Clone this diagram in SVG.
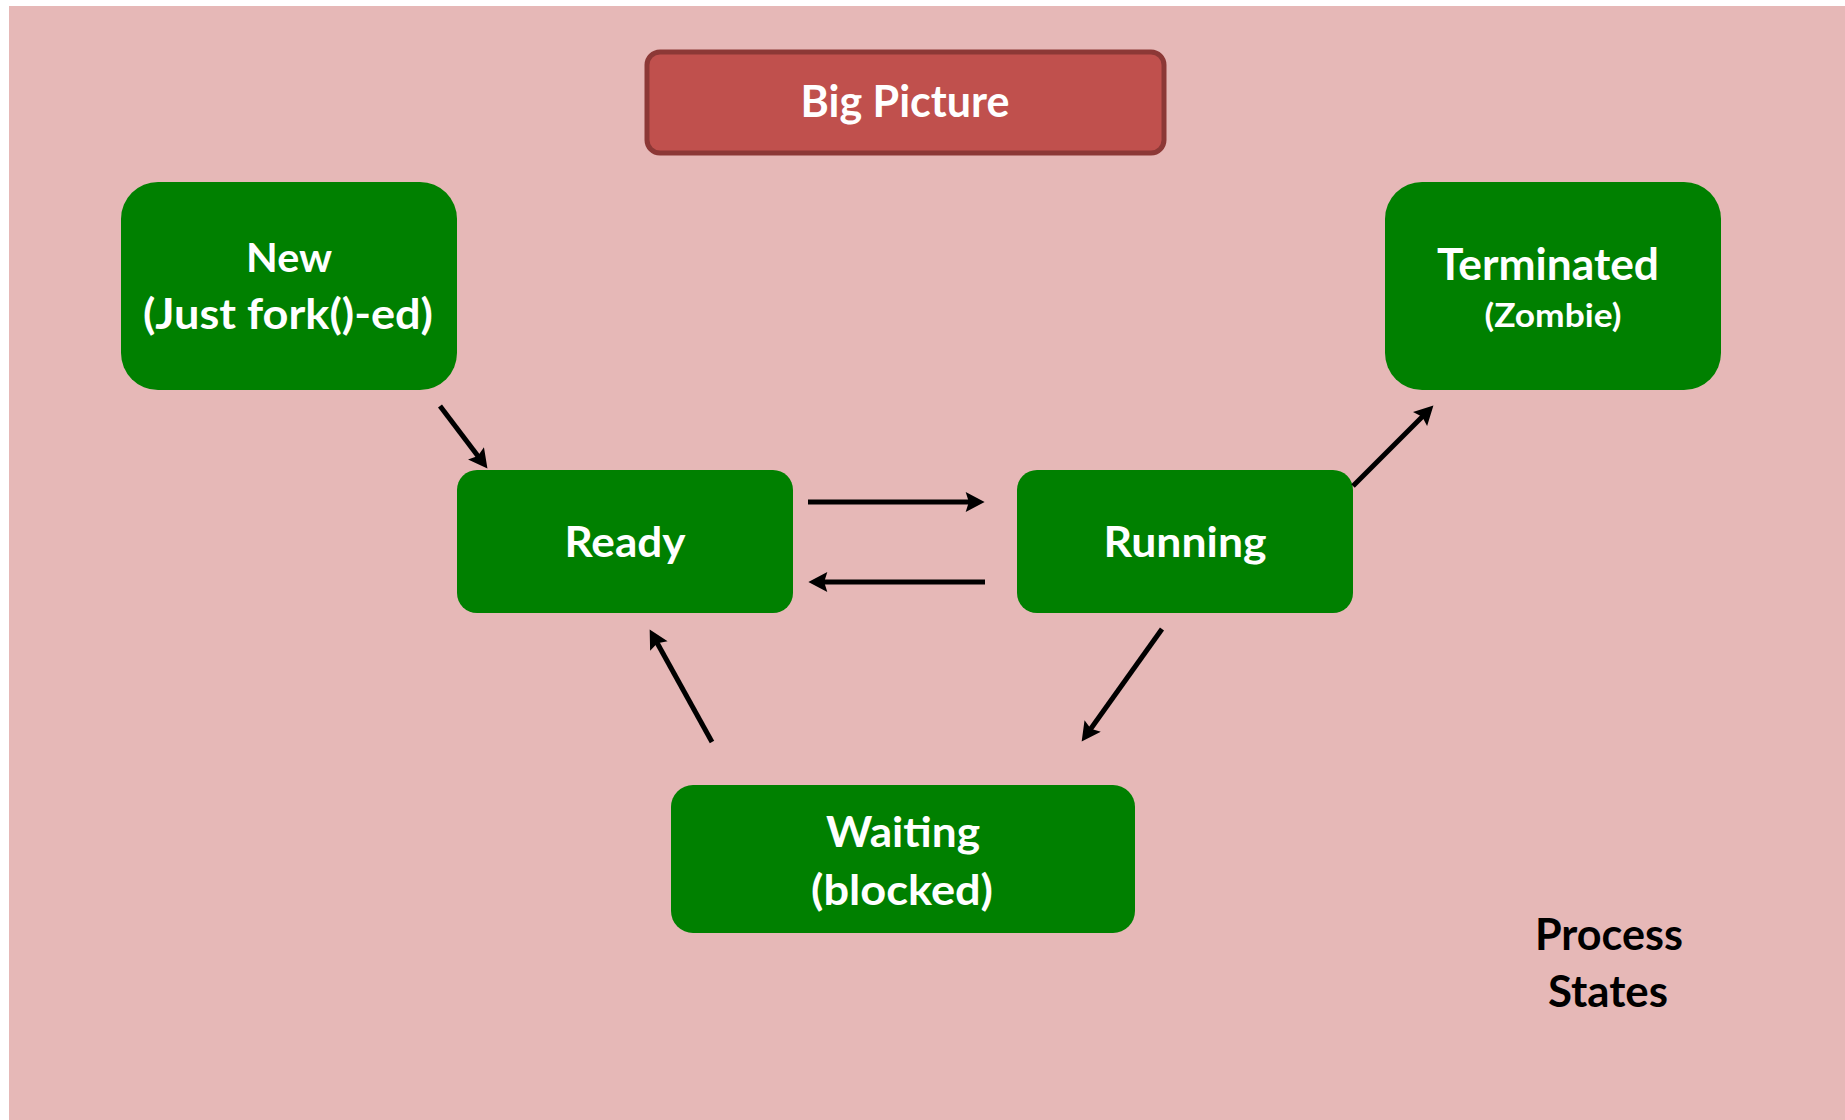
<svg xmlns="http://www.w3.org/2000/svg" width="1845" height="1120" viewBox="0 0 1845 1120">
<defs>
<style>
.bg{fill:#E6B8B7}
.state{fill:#008000}
.title{fill:#C0504D;stroke:#8C3836;stroke-width:5}
.t{font-family:Lato,"Open Sans","Liberation Sans",sans-serif;font-weight:bold;fill:#FFFFFF;text-anchor:middle}
.k{font-family:Lato,"Open Sans","Liberation Sans",sans-serif;font-weight:bold;fill:#000000;text-anchor:middle}
.edge{stroke:#000;stroke-width:5;fill:none;marker-end:url(#ah)}
</style>
<marker id="ah" markerUnits="userSpaceOnUse" markerWidth="20" markerHeight="20" viewBox="0 0 18 19" refX="6" refY="9.5" orient="auto">
<path d="M0,0 L18,9.5 L0,19 L3,9.5 z" fill="#000"/>
</marker>
</defs>
<rect x="0" y="0" width="1845" height="1120" fill="#FFFFFF"/>
<rect class="bg" x="9" y="6" width="1836" height="1114"/>
<g id="big-picture">
<rect class="title" x="647" y="52" width="517" height="101" rx="13"/>
<text class="t" x="905" y="117" font-size="43" textLength="209" lengthAdjust="spacingAndGlyphs">Big Picture</text>
</g>
<g id="new">
<rect class="state" x="121" y="182" width="336" height="208" rx="37"/>
<text class="t" x="289" y="272" font-size="41" textLength="86" lengthAdjust="spacingAndGlyphs">New</text>
<text class="t" x="288" y="329" font-size="42" textLength="290" lengthAdjust="spacingAndGlyphs">(Just fork()-ed)</text>
</g>
<g id="terminated">
<rect class="state" x="1385" y="182" width="336" height="208" rx="37"/>
<text class="t" x="1548" y="280" font-size="43" textLength="222" lengthAdjust="spacingAndGlyphs">Terminated</text>
<text class="t" x="1553" y="327" font-size="32" textLength="137" lengthAdjust="spacingAndGlyphs">(Zombie)</text>
</g>
<g id="ready">
<rect class="state" x="457" y="470" width="336" height="143" rx="20"/>
<text class="t" x="625" y="557" font-size="42" textLength="121" lengthAdjust="spacingAndGlyphs">Ready</text>
</g>
<g id="running">
<rect class="state" x="1017" y="470" width="336" height="143" rx="20"/>
<text class="t" x="1185" y="557" font-size="42" textLength="163" lengthAdjust="spacingAndGlyphs">Running</text>
</g>
<g id="waiting">
<rect class="state" x="671" y="785" width="464" height="148" rx="22"/>
<text class="t" x="903" y="847" font-size="42" textLength="154" lengthAdjust="spacingAndGlyphs">Waiting</text>
<text class="t" x="902" y="905" font-size="42" textLength="182" lengthAdjust="spacingAndGlyphs">(blocked)</text>
</g>
<g id="caption">
<text class="k" x="1609" y="950" font-size="43" textLength="148" lengthAdjust="spacingAndGlyphs">Process</text>
<text class="k" x="1608" y="1007" font-size="43" textLength="120" lengthAdjust="spacingAndGlyphs">States</text>
</g>
<g id="connectors">
<line class="edge" x1="440" y1="406" x2="479.8" y2="458.4"/>
<line class="edge" x1="808" y1="502" x2="972" y2="502"/>
<line class="edge" x1="985" y1="582" x2="821" y2="582"/>
<line class="edge" x1="1353" y1="486" x2="1424.5" y2="414.5"/>
<line class="edge" x1="1162" y1="629" x2="1089" y2="731.2"/>
<line class="edge" x1="712" y1="742" x2="655.8" y2="640.5"/>
</g>
</svg>
